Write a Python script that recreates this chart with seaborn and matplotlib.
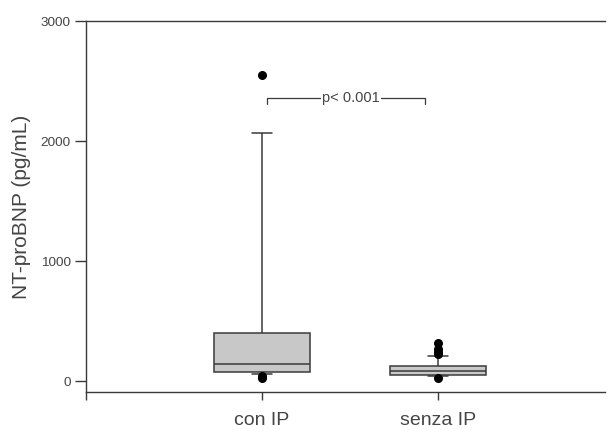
import numpy as np
import pandas as pd
import matplotlib
matplotlib.use('Agg')
import matplotlib.pyplot as plt
import seaborn as sns

# five-number summaries (whisker low, Q1, median, Q3, whisker high)
groups = ['con IP', 'senza IP']
con_summary = [60, 80, 145, 400, 2070]
senza_summary = [42, 50, 83, 125, 208]
# outliers beyond the whiskers
con_outliers = [30, 40, 2550]
senza_outliers = [25, 225, 240, 270, 320]

y_ticks = [0, 1000, 2000, 3000]
p_text = 'p< 0.001'

sns.set_style("ticks")
plt.rcParams['font.family'] = ['Liberation Sans', 'DejaVu Sans']

INK = '#3a3a3a'
TXT = '#454545'

df = pd.DataFrame({
    'group': [groups[0]] * len(con_summary) + [groups[1]] * len(senza_summary),
    'value': con_summary + senza_summary,
})
df_out = pd.DataFrame({
    'group': [groups[0]] * len(con_outliers) + [groups[1]] * len(senza_outliers),
    'value': con_outliers + senza_outliers,
})

fig = plt.figure(figsize=(6.1, 4.3), dpi=100)
ax = fig.add_axes([0.141, 0.088, 0.851, 0.863])

sns.boxplot(data=df, x='group', y='value', order=groups, whis=(0, 100),
            width=0.545, color='#c8c8c8', saturation=1, linecolor=INK,
            linewidth=1.1, showfliers=False, ax=ax)

# shorten the caps
for line in ax.lines:
    xd = np.asarray(line.get_xdata(), dtype=float)
    yd = np.asarray(line.get_ydata(), dtype=float)
    if len(xd) == 2 and yd[0] == yd[1] and xd[0] != xd[1]:
        c = xd.mean()
        if abs(xd[1] - xd[0]) < 0.4:
            line.set_xdata([c - 0.055, c + 0.055])

sns.stripplot(data=df_out, x='group', y='value', order=groups, jitter=False,
              color='black', size=6.5, ax=ax)

# significance bracket
y_br, y_end = 2357, 2307
ax.plot([0.027, 0.027, 0.926, 0.926], [y_end, y_br, y_br, y_end], color=INK, lw=0.9)
ax.text(0.505, y_br, p_text, ha='center', va='center', fontsize=10.5, color=TXT,
        bbox=dict(facecolor='white', edgecolor='none', pad=1.0))

ax.set_xlim(-1, 1.95)
ax.set_ylim(-92, 3000)
ax.set_xticks([-1, 0, 1])
ax.set_xticklabels(['', groups[0], groups[1]], fontsize=14, color=TXT)
ax.set_yticks(y_ticks)
ax.set_yticklabels([str(v) for v in y_ticks], fontsize=9.7, color=TXT)
ax.set_xlabel('')
ax.set_ylabel('NT-proBNP (pg/mL)', fontsize=15, color=TXT, labelpad=7)
ax.tick_params(axis='x', length=6, width=1, color=INK, pad=8)
ax.tick_params(axis='y', length=8, width=1, color=INK, pad=3)

for side in ['left', 'bottom', 'top']:
    ax.spines[side].set_color(INK)
    ax.spines[side].set_linewidth(1)
ax.spines['right'].set_visible(False)

fig.savefig('out.png', dpi=100)
